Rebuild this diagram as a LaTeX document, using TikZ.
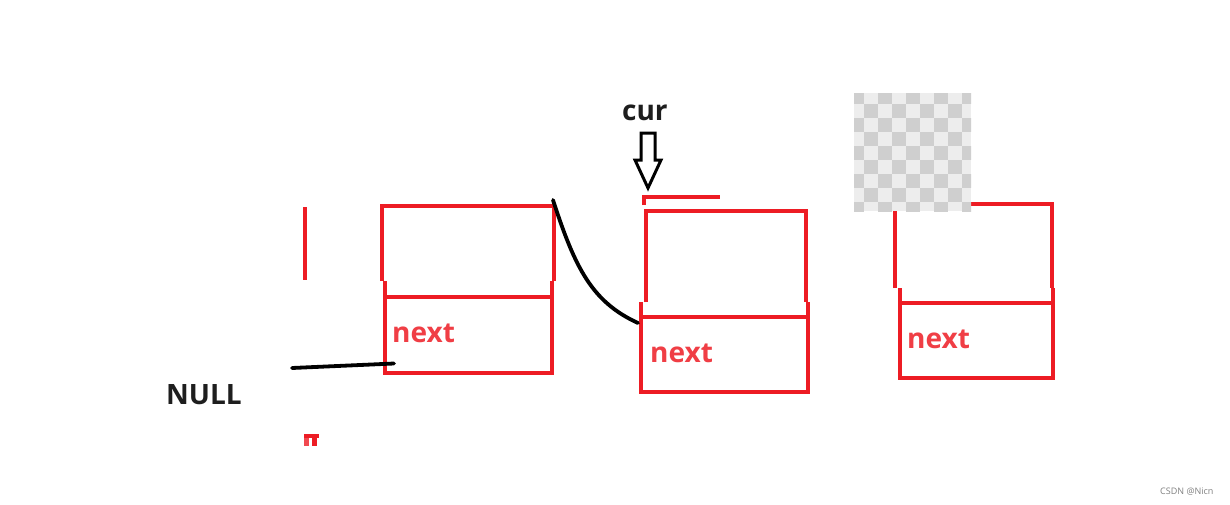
\documentclass[tikz,border=0pt]{standalone}
\usepackage{fontspec}
\setmainfont{Open Sans}
\definecolor{pred}{HTML}{ED1C24}
\definecolor{ink}{HTML}{1E1E1E}
\definecolor{chkl}{HTML}{EDEDED}
\definecolor{chkd}{HTML}{CFCFCF}
\begin{document}
\begin{tikzpicture}[x=1pt,y=-1pt,
  redline/.style={draw=pred,line width=4pt},
  blackline/.style={draw=black,line width=3.8pt,line cap=round},
  nexttext/.style={anchor=base west,inner sep=0pt,text=pred!85!white,font=\fontsize{28}{31}\selectfont\bfseries},
  darktext/.style={anchor=base west,inner sep=0pt,text=ink,font=\fontsize{28}{31}\selectfont\bfseries}]
\useasboundingbox[fill=white] (0,0) rectangle (1230,504);

% stray red marks on the left
\draw[redline] (305,207) -- (305,280);
\fill[pred] (304,433.5) rectangle (318.5,438);
\fill[pred!80!white] (304,438) rectangle (308.5,446);
\fill[pred] (312,438) rectangle (316.5,446);

% box 1
\draw[redline] (382,281) -- (382,206) -- (554,206) -- (554,281);
\draw[redline] (385,281) -- (385,373) -- (552,373) -- (552,281);
\draw[redline] (385,297) -- (552,297);
\coordinate (b1tr) at (553,200);
\coordinate (b1bl) at (394,363.5);
\node[nexttext] (n1) at (392,342) {next};

% box 2
\draw[redline] (644,205) -- (644,197) -- (720,197);
\draw[redline] (646,302) -- (646,211) -- (806,211) -- (806,302);
\draw[redline] (641,302) -- (641,392) -- (808,392) -- (808,302);
\draw[redline] (641,317) -- (808,317);
\coordinate (b2bl) at (638,323);
\node[nexttext] (n2) at (650,362) {next};

% box 3
\draw[redline] (895,288) -- (895,203.5) -- (1052,203.5) -- (1052,288);
\draw[redline] (900,288) -- (900,378) -- (1053,378) -- (1053,288);
\draw[redline] (900,303) -- (1053,303);
\node[nexttext] (n3) at (907,348) {next};

% checkerboard
\fill[chkl] (854,93) rectangle (971,211);
\begin{scope}
\clip (854,93) rectangle (971,211);
\foreach \i in {0,...,8} {
  \foreach \j in {0,...,8} {
    \pgfmathtruncatemacro\chkp{mod(\i+\j,2)}
    \ifnum\chkp=0
      \fill[chkd] (850+14*\i,90+14*\j) rectangle ++(14,14);
    \fi
  }
}
\end{scope}

% texts
\node[darktext] (null) at (166,404) {NULL};
\node[darktext] (cur) at (622,120) {cur};

% connectors
\coordinate (nullend) at (292,368);
\draw[blackline] (nullend) -- (b1bl);
\draw[blackline] (b1tr) .. controls (575,268) and (592,302) .. (b2bl);

% cur arrow
\draw[black,line width=3pt,line join=miter] (641,133) -- (655,133) -- (655,160) -- (661,160) -- (648,188) -- (635,160) -- (641,160) -- cycle;

% watermark
\node[anchor=base west,inner sep=0pt,text=gray,font=\fontsize{9}{10}\selectfont] (wm) at (1160,494) {CSDN @Nicn};
\end{tikzpicture}
\end{document}
